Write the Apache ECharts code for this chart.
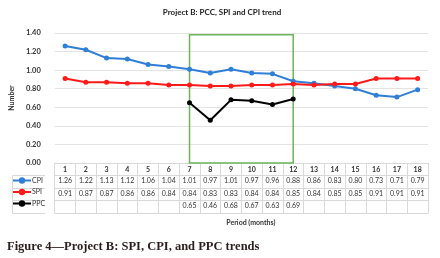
<!DOCTYPE html>
<html>
<head>
<meta charset="utf-8">
<script src="https://cdn.jsdelivr.net/npm/echarts@6/dist/echarts.min.js"></script>
<style>
  html, body { margin: 0; padding: 0; background: #fff; }
  #chart { width: 440px; height: 258px; }
</style>
</head>
<body>
<div id="chart"></div>
<script>
const months = ['1', '2', '3', '4', '5', '6', '7', '8', '9', '10', '11', '12', '13', '14', '15', '16', '17', '18'];
const cpi = [1.26, 1.22, 1.13, 1.12, 1.06, 1.04, 1.01, 0.97, 1.01, 0.97, 0.96, 0.88, 0.86, 0.83, 0.80, 0.73, 0.71, 0.79];
const spi = [0.91, 0.87, 0.87, 0.86, 0.86, 0.84, 0.84, 0.83, 0.83, 0.84, 0.84, 0.85, 0.84, 0.85, 0.85, 0.91, 0.91, 0.91];
const ppc = [null, null, null, null, null, null, 0.65, 0.46, 0.68, 0.67, 0.63, 0.69, null, null, null, null, null, null];
const yTicks = [0, 0.2, 0.4, 0.6, 0.8, 1.0, 1.2, 1.4];
const windowStart = '7';
const windowEnd = '12';

const FONT = 'Lato, "Open Sans", sans-serif';
const GRID_COLOR = '#d9d9d9';
const colors = { cpi: '#2f7fd8', spi: '#ff1a1a', ppc: '#000000' };

const chart = echarts.init(document.getElementById('chart'));

// one extra x axis per table row, pushed down with offset
function rowAxis(offset, values) {
  return {
    type: 'category',
    data: months,
    position: 'bottom',
    offset: offset,
    axisLine: { show: true, lineStyle: { color: GRID_COLOR, width: 1 } },
    axisTick: { show: false },
    axisLabel: {
      show: !!values,
      margin: 2,
      fontSize: 7,
      fontFamily: FONT,
      color: '#333',
      formatter: (v, i) => (values && values[i] != null ? values[i].toFixed(2) : '')
    }
  };
}

function lineSeries(name, data, color) {
  return {
    name: name,
    type: 'line',
    data: data,
    color: color,
    symbol: 'circle',
    symbolSize: 5,
    lineStyle: { width: 2, color: color },
    itemStyle: { color: color },
    animation: false
  };
}

const ppcSeries = lineSeries('PPC', ppc, colors.ppc);
ppcSeries.markArea = {
  silent: true,
  itemStyle: { color: 'rgba(0,0,0,0)', borderColor: '#6cb55a', borderWidth: 1.5 },
  data: [[{ xAxis: windowStart, yAxis: 1.38 }, { xAxis: windowEnd, yAxis: 0 }]]
};

const option = {
  backgroundColor: '#fff',
  textStyle: { fontFamily: FONT },
  title: {
    text: 'Project B: PCC, SPI and CPI trend',
    left: 217,
    textAlign: 'center',
    top: 3,
    textStyle: { fontSize: 8, fontWeight: 'bold', color: '#222', fontFamily: FONT }
  },
  legend: {
    orient: 'vertical',
    left: 12,
    top: 177,
    itemGap: 4.5,
    itemWidth: 18,
    itemHeight: 8,
    padding: 0,
    textStyle: { fontSize: 7, color: '#333', fontFamily: FONT, padding: [0, 0, 0, -4] },
    data: ['CPI', 'SPI', 'PPC']
  },
  grid: { left: 45, right: 12, top: 33, bottom: 95, containLabel: false },
  xAxis: [
    {
      type: 'category',
      data: months,
      position: 'bottom',
      axisLine: { show: true, lineStyle: { color: GRID_COLOR, width: 1 } },
      axisTick: { show: true, length: 50, lineStyle: { color: GRID_COLOR } },
      axisLabel: { margin: 3, fontSize: 7, fontWeight: 'bold', color: '#333', fontFamily: FONT }
    },
    rowAxis(12, cpi),
    rowAxis(25, spi),
    rowAxis(37, ppc),
    Object.assign(rowAxis(50, null), {
      name: 'Period (months)',
      nameLocation: 'middle',
      nameGap: 6,
      nameTextStyle: { fontSize: 7, fontWeight: 'bold', color: '#333', fontFamily: FONT, padding: [0, 0, 0, 19] }
    })
  ],
  yAxis: {
    type: 'value',
    min: yTicks[0],
    max: yTicks[yTicks.length - 1],
    interval: 0.2,
    name: 'Number',
    nameLocation: 'middle',
    nameRotate: 90,
    nameGap: 30,
    nameTextStyle: { fontSize: 7, fontWeight: 'bold', color: '#333', fontFamily: FONT },
    axisLine: { show: false },
    axisTick: { show: false },
    axisLabel: {
      fontSize: 7.5,
      fontWeight: 'bold',
      color: '#333',
      fontFamily: FONT,
      margin: 14,
      formatter: v => v.toFixed(2)
    },
    splitLine: { lineStyle: { color: '#e3e3e3', width: 1 } }
  },
  graphic: [
    // left column of the data table (row headers)
    {
      type: 'polyline',
      silent: true,
      shape: { points: [[45, 175.5], [12.5, 175.5], [12.5, 213.5], [45, 213.5]] },
      style: { stroke: GRID_COLOR, fill: null, lineWidth: 1 }
    },
    {
      type: 'line', silent: true,
      shape: { x1: 12.5, y1: 188.5, x2: 45, y2: 188.5 },
      style: { stroke: GRID_COLOR, lineWidth: 1 }
    },
    {
      type: 'line', silent: true,
      shape: { x1: 12.5, y1: 200.5, x2: 45, y2: 200.5 },
      style: { stroke: GRID_COLOR, lineWidth: 1 }
    },
    {
      type: 'text',
      left: 7,
      top: 240,
      style: {
        text: 'Figure 4\u2014Project B: SPI, CPI, and PPC trends',
        font: 'bold 12.5px "Liberation Serif", "DejaVu Serif", serif',
        fill: '#2a1e1e'
      }
    }
  ],
  series: [
    lineSeries('CPI', cpi, colors.cpi),
    lineSeries('SPI', spi, colors.spi),
    ppcSeries
  ]
};

chart.setOption(option);
</script>
</body>
</html>
